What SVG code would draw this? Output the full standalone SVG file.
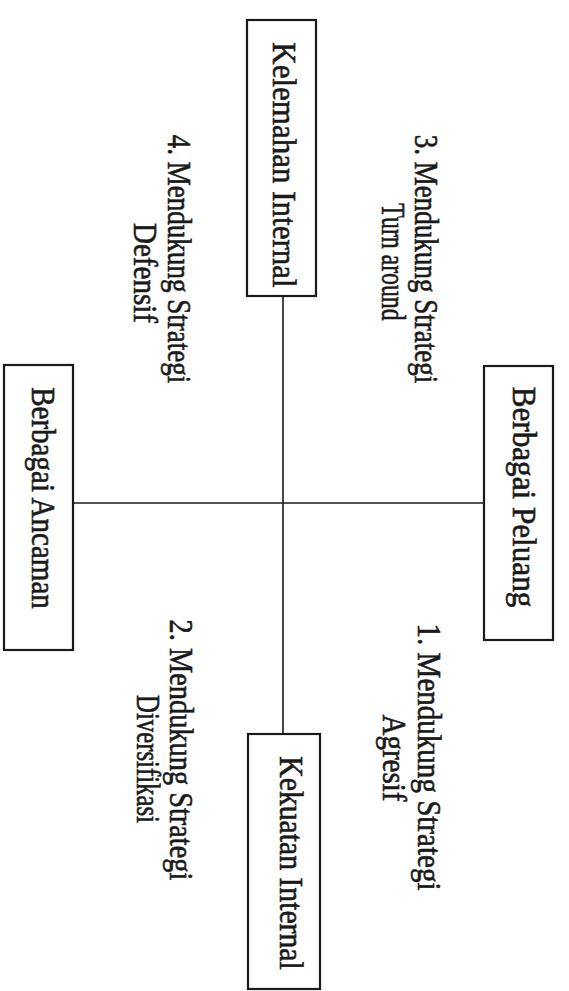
<svg xmlns="http://www.w3.org/2000/svg" width="569" height="991" viewBox="0 0 569 991">
<style>
.box{fill:#fff;stroke:#1a1a1a;stroke-width:2.2}
.ln{stroke:#1a1a1a;stroke-width:1.6;fill:none}
text{font-family:"Liberation Serif","Times New Roman",serif;font-size:33px;fill:#1a1a1a;stroke:#1a1a1a;stroke-width:0.6;text-anchor:middle}
</style>
<rect width="569" height="991" fill="#fff"/>
<g id="connectors">
<line class="ln" x1="283" y1="296" x2="283" y2="734"/>
<line class="ln" x1="73" y1="503" x2="484" y2="503"/>
</g>
<g id="kelemahan">
<rect class="box" x="247" y="20" width="69" height="276"/>
<text transform="translate(273,165) rotate(90) scale(0.94,1)">Kelemahan Internal</text>
</g>
<g id="kekuatan">
<rect class="box" x="248" y="734" width="72" height="255"/>
<text transform="translate(280,863) rotate(90) scale(0.9,1)">Kekuatan Internal</text>
</g>
<g id="ancaman">
<rect class="box" x="4" y="365" width="69" height="285"/>
<text transform="translate(32,498) rotate(90) scale(0.88,1)">Berbagai Ancaman</text>
</g>
<g id="peluang">
<rect class="box" x="484" y="366" width="69" height="274"/>
<text transform="translate(513,497) rotate(90) scale(0.945,1)">Berbagai Peluang</text>
</g>
<g id="q3">
<text transform="translate(415,259) rotate(90) scale(0.82,1)">3. Mendukung Strategi</text>
<text transform="translate(382,262) rotate(90) scale(0.72,1)">Turn around</text>
</g>
<g id="q4">
<text transform="translate(168,259) rotate(90) scale(0.82,1)">4. Mendukung Strategi</text>
<text transform="translate(134,273) rotate(90) scale(0.88,1)">Defensif</text>
</g>
<g id="q1">
<text transform="translate(418,757) rotate(90) scale(0.88,1)">1. Mendukung Strategi</text>
<text transform="translate(383,758) rotate(90) scale(0.88,1)">Agresif</text>
</g>
<g id="q2">
<text transform="translate(170,750) rotate(90) scale(0.86,1)">2. Mendukung Strategi</text>
<text transform="translate(137,759) rotate(90) scale(0.75,1)">Diversifikasi</text>
</g>
</svg>
